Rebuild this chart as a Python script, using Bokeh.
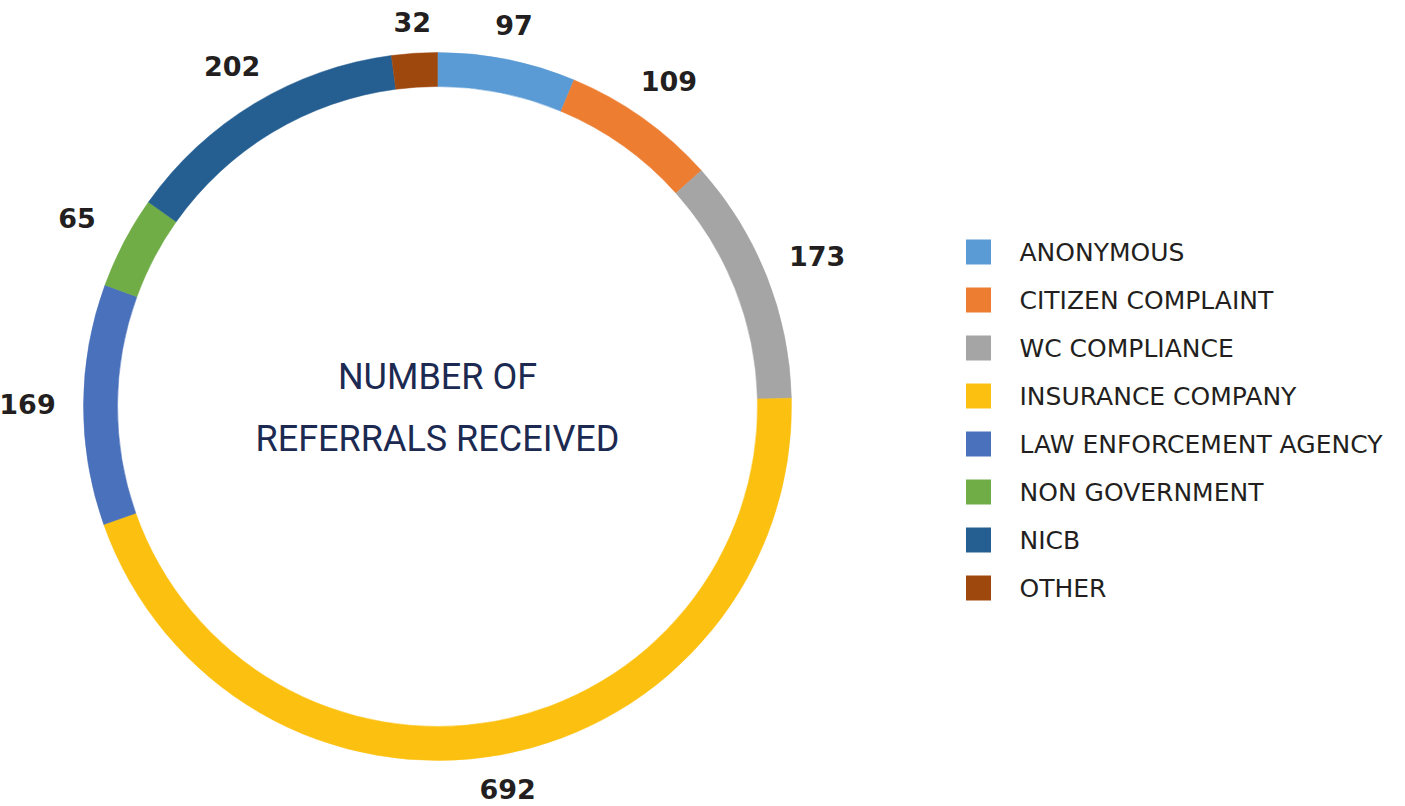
import math
from bokeh.plotting import figure
from bokeh.models import Range1d, ColumnDataSource
from bokeh.core.properties import value
from bokeh.embed import file_html
from bokeh.resources import INLINE

categories = ["ANONYMOUS", "CITIZEN COMPLAINT", "WC COMPLIANCE", "INSURANCE COMPANY",
              "LAW ENFORCEMENT AGENCY", "NON GOVERNMENT", "NICB", "OTHER"]
counts = [97, 109, 173, 692, 169, 65, 202, 32]
colors = ["#5b9bd5", "#ed7d31", "#a5a5a5", "#fcc010", "#4a71bb", "#70ad47", "#255e91", "#9e480e"]
center_title = ["NUMBER OF", "REFERRALS RECEIVED"]

W, H = 1405, 806
p = figure(width=W, height=H, output_backend="svg", toolbar_location=None,
           x_range=Range1d(0, W), y_range=Range1d(806 - H, 806),
           min_border=0, outline_line_color=None)
p.axis.visible = False
p.grid.visible = False
p.background_fill_color = "white"
p.border_fill_color = "white"

cx, cy = 437, 400
r_out, r_in = 354, 320

total = float(sum(counts))
starts, ends, mids = [], [], []
acc = 0.0
for c in counts:
    a0 = acc / total * 2 * math.pi
    acc += c
    a1 = acc / total * 2 * math.pi
    starts.append(math.pi / 2 - a0)
    ends.append(math.pi / 2 - a1)
    mids.append((a0 + a1) / 2)

src = ColumnDataSource(dict(start=starts, end=ends, color=colors, cat=categories, n=counts))
p.annular_wedge(x=cx, y=cy, inner_radius=r_in, outer_radius=r_out,
                start_angle="start", end_angle="end", direction="clock",
                fill_color="color", line_color="color", line_width=0.5, source=src)

# value labels
lx, ly = [], []
for m in mids:
    r = 384 + 26 * abs(math.sin(m))
    lx.append(cx + r * math.sin(m))
    ly.append(cy + r * math.cos(m))
p.text(x=lx, y=ly, text=[str(c) for c in counts], text_align="center", text_baseline="middle",
       text_font=value("DejaVu Sans"), text_font_style="bold", text_font_size="27px",
       text_color="#231f20")

# center title
p.text(x=[cx, cx], y=[cy + 30, cy - 32], text=center_title, text_align="center",
       text_baseline="middle",
       text_font=value("Roboto"),
       text_font_size="36px", text_color="#1c2a52")

# legend
leg_x, leg_y0, step = 978, 806 - 251.5, 48
ys = [leg_y0 - i * step for i in range(len(categories))]
p.rect(x=[leg_x] * len(categories), y=ys, width=25, height=25, fill_color=colors, line_color=None)
p.text(x=[1019] * len(categories), y=ys, text=categories, text_align="left", text_baseline="middle",
       text_font=value("DejaVu Sans"), text_font_size="25px", text_color="#231f20")

open("out.html", "w").write(file_html(p, INLINE))
